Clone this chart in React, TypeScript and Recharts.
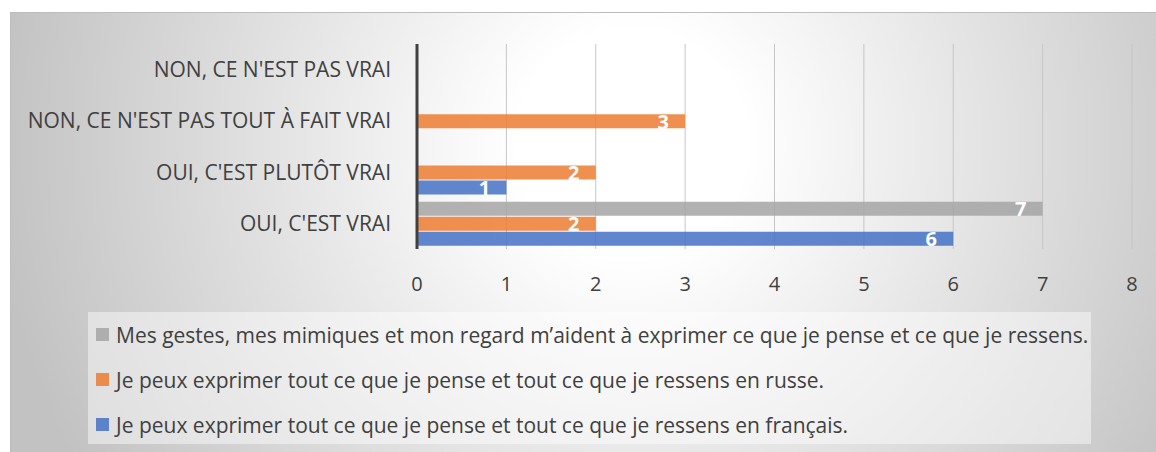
import { BarChart, Bar, XAxis, YAxis, CartesianGrid, LabelList } from "recharts";

const categories = [
  "NON, CE N'EST PAS VRAI",
  "NON, CE N'EST PAS TOUT À FAIT VRAI",
  "OUI, C'EST PLUTÔT VRAI",
  "OUI, C'EST VRAI",
];
const gestesValues = [0, 0, 0, 7];
const russeValues = [0, 3, 2, 2];
const francaisValues = [0, 0, 1, 6];
const xTicks = [0, 1, 2, 3, 4, 5, 6, 7, 8];

const series = [
  {
    key: "gestes",
    label: "Mes gestes, mes mimiques et mon regard m’aident à exprimer ce que je pense et ce que je ressens.",
    colour: "#A5A5A5",
  },
  {
    key: "russe",
    label: "Je peux exprimer tout ce que je pense et tout ce que je ressens en russe.",
    colour: "#ED7D31",
  },
  {
    key: "francais",
    label: "Je peux exprimer tout ce que je pense et tout ce que je ressens en français.",
    colour: "#4472C4",
  },
];

const data = categories.map((name, i) => ({
  name,
  gestes: gestesValues[i],
  russe: russeValues[i],
  francais: francaisValues[i],
}));

const FONT = "'Open Sans', sans-serif";

function ValueLabel(props: any) {
  const { x, y, width, height, value } = props;
  const cx = value > 0 ? x + width - 22 : x + 21;
  return (
    <text
      x={cx}
      y={y + height / 2}
      textAnchor="middle"
      dominantBaseline="central"
      fill="#fff"
      fontSize={20}
      fontWeight={700}
      fontFamily={FONT}
    >
      {value}
    </text>
  );
}

export default function App() {
  return (
    <div style={{ position: "absolute", left: 0, top: 0, width: 1156, height: 452, background: "#fff" }}>
      <div
        style={{
          position: "absolute",
          left: 10,
          top: 12,
          width: 1146,
          height: 440,
          borderTop: "1px solid #bdbdbd",
          borderLeft: "1px solid #bdbdbd",
          boxSizing: "border-box",
          background:
            "radial-gradient(circle 640px at 620px 130px, #ffffff 0%, #ffffff 18%, #c2c2c2 100%)",
          fontFamily: FONT,
        }}
      >
        <BarChart
          width={1146}
          height={440}
          data={data}
          layout="vertical"
          margin={{ top: 31, right: 25, bottom: 164, left: 0 }}
          barSize={14}
          barGap={1}
        >
          <CartesianGrid horizontal={false} stroke="#c6c6c6" />
          <XAxis
            type="number"
            domain={[0, 8]}
            ticks={xTicks}
            axisLine={false}
            tickLine={false}
            tickSize={0}
            tickMargin={28}
            height={40}
            tick={{ fill: "#404040", fontSize: 20, fontFamily: FONT }}
          />
          <YAxis
            type="category"
            dataKey="name"
            width={406}
            axisLine={{ stroke: "#404040", strokeWidth: 3 }}
            tickLine={false}
            tickSize={0}
            tickMargin={26}
            tick={{ fill: "#404040", fontSize: 21, fontFamily: FONT }}
          />
          {series.map((s) => (
            <Bar
              key={s.key}
              dataKey={s.key}
              fill={s.colour}
              fillOpacity={0.85}
              isAnimationActive={false}
            >
              <LabelList dataKey={s.key} content={ValueLabel} />
            </Bar>
          ))}
        </BarChart>
        <div
          style={{
            position: "absolute",
            left: 77,
            top: 299,
            width: 1003,
            height: 132,
            background: "rgba(255,255,255,0.45)",
            color: "#404040",
            fontSize: 21,
            boxSizing: "border-box",
          }}
        >
          {series.map((s) => (
            <div key={s.key} style={{ display: "flex", alignItems: "center", height: 45, paddingLeft: 8 }}>
              <span
                style={{
                  width: 13,
                  height: 13,
                  background: s.colour,
                  opacity: 0.85,
                  marginRight: 7,
                  flexShrink: 0,
                }}
              />
              <span style={{ whiteSpace: "nowrap" }}>{s.label}</span>
            </div>
          ))}
        </div>
      </div>
    </div>
  );
}
